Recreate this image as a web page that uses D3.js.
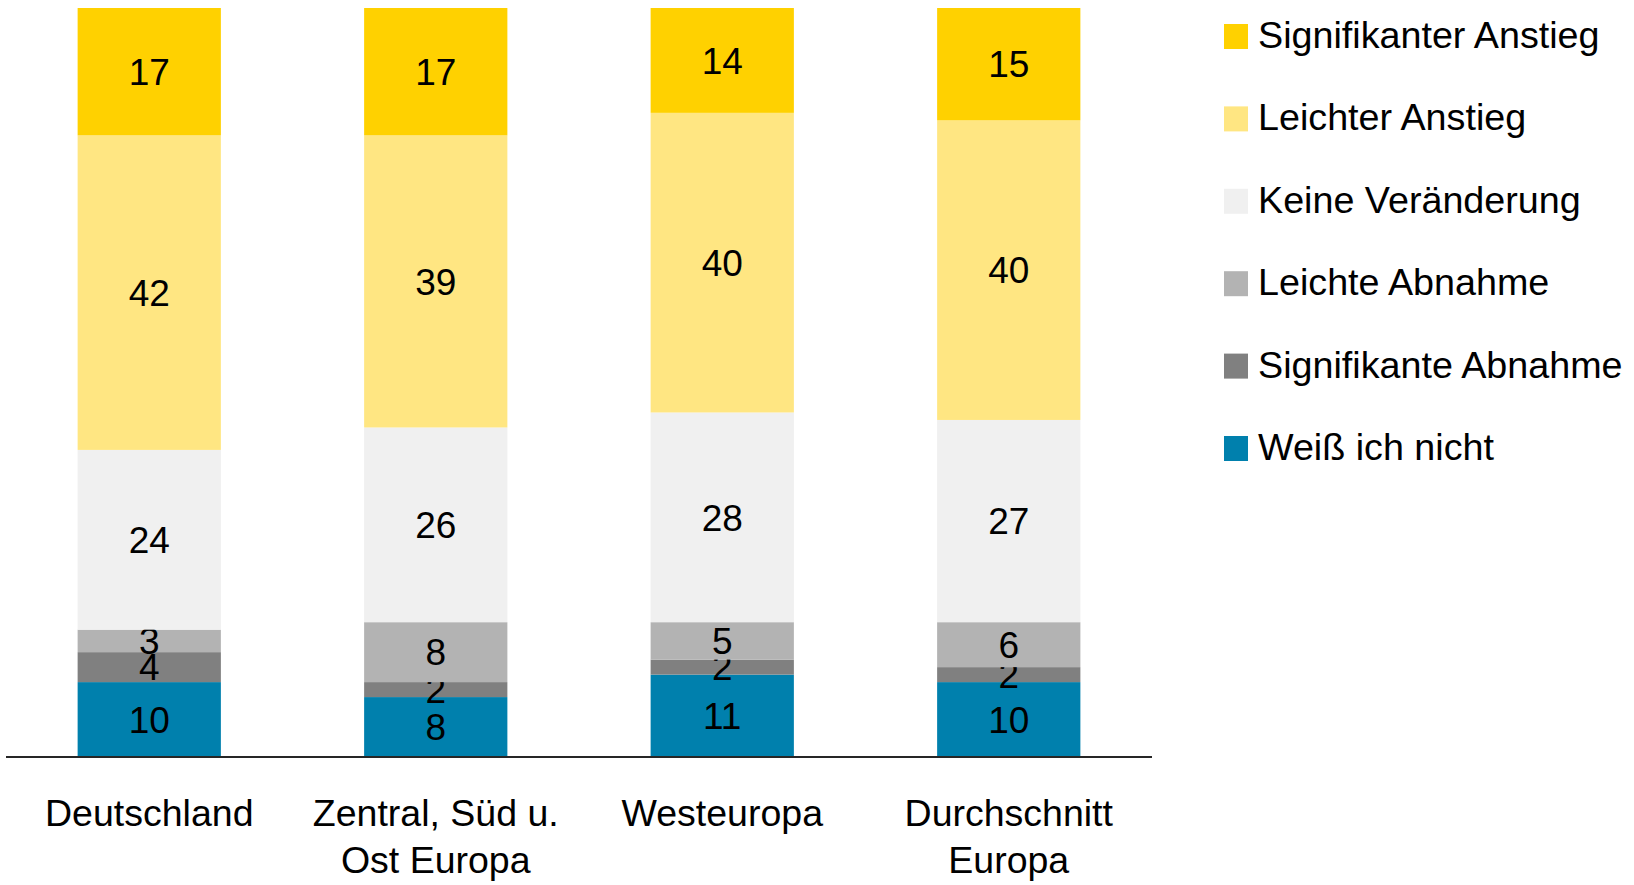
<!DOCTYPE html>
<html>
<head>
<meta charset="utf-8">
<script src="https://cdn.jsdelivr.net/npm/d3@7"></script>
<style>
  body { margin: 0; background: #fff; }
  text { font-family: "Liberation Sans", Arial, sans-serif; fill: #000; }
</style>
</head>
<body>
<script>
// categories (two-line labels)
const categories = ["Deutschland", "Zentral, Süd u.|Ost Europa", "Westeuropa", "Durchschnitt|Europa"];
// series, bottom of stack first
const seriesNames = ["Weiß ich nicht", "Signifikante Abnahme", "Leichte Abnahme", "Keine Veränderung", "Leichter Anstieg", "Signifikanter Anstieg"];
const weissNicht = [10, 8, 11, 10];
const sigAbnahme = [4, 2, 2, 2];
const leichteAbnahme = [3, 8, 5, 6];
const keineVeraenderung = [24, 26, 28, 27];
const leichterAnstieg = [42, 39, 40, 40];
const sigAnstieg = [17, 17, 14, 15];
const colors = ["#0080ad", "#808080", "#b3b3b3", "#f0f0f0", "#ffe682", "#ffd100"];

const allSeries = [weissNicht, sigAbnahme, leichteAbnahme, keineVeraenderung, leichterAnstieg, sigAnstieg];

const W = 1634, H = 885;
const plotLeft = 6, plotRight = 1152, base = 757, plotTop = 8;

const rows = categories.map((c, i) => {
  const r = { cat: c };
  seriesNames.forEach((s, j) => r[s] = allSeries[j][i]);
  return r;
});
const stacked = d3.stack().keys(seriesNames)(rows);

const x = d3.scaleBand().domain(categories).range([plotLeft, plotRight]).paddingInner(0.5).paddingOuter(0.25);
const y = d3.scaleLinear().domain([0, 100]).range([base, plotTop]);

const svg = d3.select("body").append("svg").attr("width", W).attr("height", H);

const layer = svg.selectAll("g.layer")
  .data(stacked)
  .enter().append("g")
  .attr("class", "layer")
  .attr("fill", (d, i) => colors[i]);

layer.selectAll("rect")
  .data(d => d)
  .enter().append("rect")
  .attr("x", d => x(d.data.cat))
  .attr("y", d => y(d[1]))
  .attr("width", x.bandwidth())
  .attr("height", d => y(d[0]) - y(d[1]));

layer.selectAll("text")
  .data(d => d)
  .enter().append("text")
  .attr("x", d => x(d.data.cat) + x.bandwidth() / 2)
  .attr("y", d => (y(d[0]) + y(d[1])) / 2)
  .attr("dy", "0.36em")
  .attr("text-anchor", "middle")
  .attr("font-size", 37)
  .text(d => d[1] - d[0]);

// baseline
svg.append("line")
  .attr("x1", plotLeft).attr("x2", plotRight)
  .attr("y1", base).attr("y2", base)
  .attr("stroke", "#262626").attr("stroke-width", 2);

// category labels
const catLabel = svg.selectAll("text.cat")
  .data(categories)
  .enter().append("text")
  .attr("class", "cat")
  .attr("text-anchor", "middle")
  .attr("font-size", 37.5)
  .attr("transform", d => "translate(" + (x(d) + x.bandwidth() / 2) + ",826)");
catLabel.selectAll("tspan")
  .data(d => d.split("|"))
  .enter().append("tspan")
  .attr("x", 0)
  .attr("y", (d, i) => i * 47)
  .text(d => d);

// legend, top to bottom
const legendItems = seriesNames.map((s, i) => ({ name: s, color: colors[i] })).reverse();
const legend = svg.selectAll("g.legend")
  .data(legendItems)
  .enter().append("g")
  .attr("class", "legend")
  .attr("transform", (d, i) => "translate(1224," + (24 + i * 82.4) + ")");
legend.append("rect")
  .attr("width", 24).attr("height", 25)
  .attr("fill", d => d.color);
legend.append("text")
  .attr("x", 34).attr("y", 24)
  .attr("font-size", 37.7)
  .text(d => d.name);
</script>
</body>
</html>
